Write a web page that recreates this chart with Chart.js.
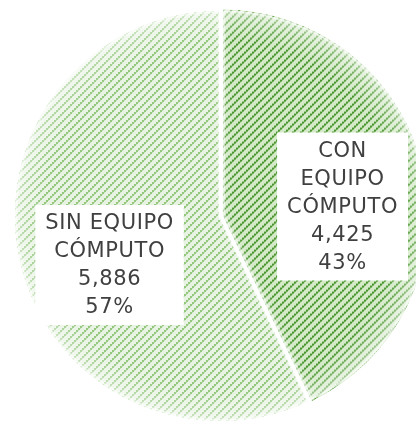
<!DOCTYPE html>
<html>
<head>
<meta charset="utf-8">
<script src="https://cdn.jsdelivr.net/npm/chart.js@4.4.1/dist/chart.umd.min.js"></script>
<style>
  html, body { margin: 0; padding: 0; background: #fff; overflow: hidden; }
  #wrap { width: 416px; height: 424px; overflow: hidden; position: relative; }
  canvas { display: block; }
</style>
</head>
<body>
<div id="wrap"><canvas id="equipo-chart" width="444" height="424"></canvas></div>
<script>
const categories = ['CON EQUIPO CÓMPUTO', 'SIN EQUIPO CÓMPUTO'];
const labelLines = [['CON', 'EQUIPO', 'CÓMPUTO'], ['SIN EQUIPO', 'CÓMPUTO']];
const households = [4425, 5886];

// stripe colours per slice: [background, dots, dot edge]
const stripeColors = [['#d4eac8', '#4a9530', '#86c06c'], ['#e8f3e3', '#93c87d', '#bcdcad']];

// where each label box sits, as a fraction of the radius from the pie centre
const labelAnchors = [[0.595, -0.046], [-0.536, 0.238]];

// dotted upward diagonal stripes, 8px apart
function makeStripes(bg, fg, soft) {
  const tile = document.createElement('canvas');
  tile.width = 8;
  tile.height = 8;
  const t = tile.getContext('2d');
  t.fillStyle = bg;
  t.fillRect(0, 0, 8, 8);
  for (let k = 0; k < 4; k++) {
    t.fillStyle = soft;
    t.fillRect((2 * k + 2) % 8, 6 - 2 * k, 1, 1);
    t.fillStyle = fg;
    t.fillRect(2 * k, 6 - 2 * k, 2, 2);
  }
  return t.createPattern(tile, 'repeat');
}

const total = households.reduce((a, b) => a + b, 0);

// soft white glow along every edge of a slice
const softEdges = {
  id: 'softEdges',
  afterDatasetsDraw(chart) {
    const ctx = chart.ctx;
    chart.getDatasetMeta(0).data.forEach((arc) => {
      const p = arc.getProps(['x', 'y', 'startAngle', 'endAngle', 'outerRadius', 'circumference'], true);
      const off = (arc.options.offset || 0) / 4;
      const half = (p.startAngle + p.endAngle) / 2;
      const fix = 1 - Math.sin(Math.min(Math.PI, p.circumference || 0));
      const shift = off + off * fix;
      const cx = p.x + Math.cos(half) * shift;
      const cy = p.y + Math.sin(half) * shift;
      const path = new Path2D();
      path.moveTo(cx, cy);
      path.arc(cx, cy, p.outerRadius - 1, p.startAngle, p.endAngle);
      path.closePath();
      ctx.save();
      ctx.clip(path);
      const g = ctx.createRadialGradient(cx, cy, p.outerRadius * 0.85, cx, cy, p.outerRadius);
      g.addColorStop(0, 'rgba(255,255,255,0)');
      g.addColorStop(1, 'rgba(255,255,255,0.45)');
      ctx.fillStyle = g;
      ctx.fill(path);
      ctx.shadowColor = 'rgba(255,255,255,1)';
      ctx.shadowBlur = 8;
      ctx.strokeStyle = 'rgba(255,255,255,0.5)';
      ctx.lineWidth = 4;
      ctx.stroke(path);
      ctx.restore();
    });
  }
};

// white label boxes with name, count and share
const sliceLabels = {
  id: 'sliceLabels',
  afterDraw(chart) {
    const ctx = chart.ctx;
    const lineH = 28;
    chart.getDatasetMeta(0).data.forEach((arc, i) => {
      const p = arc.getProps(['x', 'y', 'outerRadius'], true);
      const lines = labelLines[i].concat([
        households[i].toLocaleString('en-US'),
        Math.round(households[i] / total * 100) + '%'
      ]);
      ctx.save();
      ctx.font = '21px "DejaVu Sans"';
      if ('letterSpacing' in ctx) ctx.letterSpacing = '0.6px';
      const w = Math.max(...lines.map(l => ctx.measureText(l).width)) + 20;
      const h = lines.length * lineH + 8;
      const cx = p.x + labelAnchors[i][0] * p.outerRadius;
      const cy = p.y + labelAnchors[i][1] * p.outerRadius;
      ctx.fillStyle = '#ffffff';
      ctx.fillRect(cx - w / 2, cy - h / 2, w, h);
      ctx.fillStyle = '#404040';
      ctx.textAlign = 'center';
      ctx.textBaseline = 'middle';
      lines.forEach((l, k) => {
        ctx.fillText(l, cx, cy - h / 2 + 4 + lineH * (k + 0.5) + 1);
      });
      ctx.restore();
    });
  }
};

const ctx = document.getElementById('equipo-chart').getContext('2d');
new Chart(ctx, {
  type: 'pie',
  data: {
    labels: categories,
    datasets: [{
      data: households,
      backgroundColor: stripeColors.map(c => makeStripes(c[0], c[1], c[2])),
      borderColor: '#ffffff',
      borderWidth: 2,
      offset: [8, 0]
    }]
  },
  options: {
    responsive: false,
    animation: false,
    radius: 206,
    layout: { padding: { left: 14, right: 18, top: 10, bottom: 2 } },
    plugins: {
      legend: { display: false },
      tooltip: { enabled: false }
    }
  },
  plugins: [softEdges, sliceLabels]
});
</script>
</body>
</html>
